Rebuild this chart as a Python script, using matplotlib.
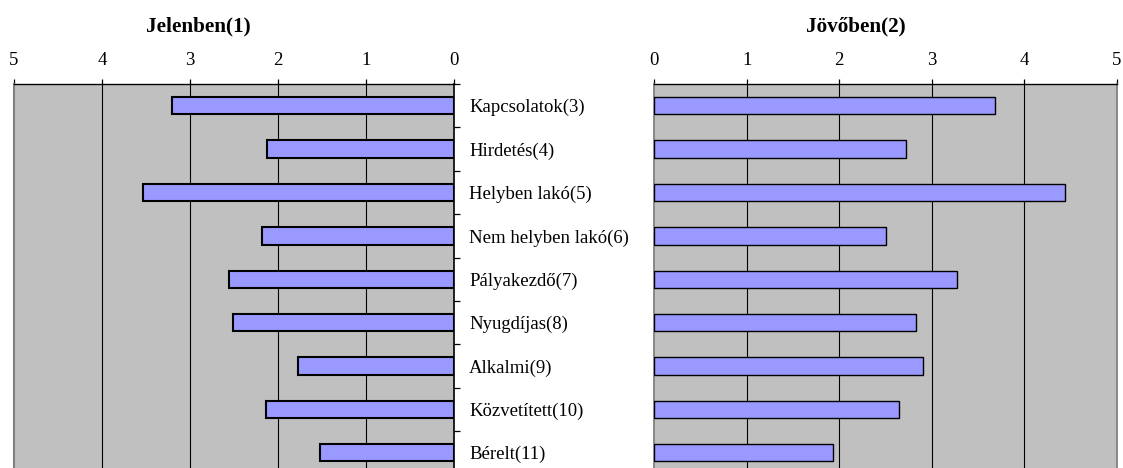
import matplotlib
matplotlib.use("Agg")
import matplotlib.pyplot as plt
import numpy as np

# Survey scores per channel: present situation vs. expected future
categories = [
    "Kapcsolatok(3)",
    "Hirdetés(4)",
    "Helyben lakó(5)",
    "Nem helyben lakó(6)",
    "Pályakezdő(7)",
    "Nyugdíjas(8)",
    "Alkalmi(9)",
    "Közvetített(10)",
    "Bérelt(11)",
]
current = [3.20, 2.12, 3.53, 2.18, 2.56, 2.51, 1.77, 2.14, 1.52]
future = [3.68, 2.72, 4.44, 2.51, 3.27, 2.83, 2.90, 2.65, 1.93]
scale_ticks = [0, 1, 2, 3, 4, 5]
title_left = "Jelenben(1)"
title_right = "Jövőben(2)"

plt.rcParams["font.family"] = ["Liberation Serif", "DejaVu Serif"]

W, H = 1123, 468
fig = plt.figure(figsize=(W / 100, H / 100), dpi=100)


def rect(x0, x1, y0, y1):
    return [x0 / W, 1 - y1 / H, (x1 - x0) / W, (y1 - y0) / H]


axL = fig.add_axes(rect(14, 454, 84, 474.5))
axR = fig.add_axes(rect(654, 1117, 84, 474.5))

y = np.arange(len(categories))
BAR = "#9999FF"
PANEL = "#C0C0C0"
EDGE_GREY = "#808080"

for ax, vals, lw in ((axL, current, 1.5), (axR, future, 1.0)):
    ax.set_facecolor(PANEL)
    ax.barh(y, vals, height=0.4, color=BAR, edgecolor="black",
            linewidth=lw, zorder=3)
    ax.set_ylim(len(categories) - 0.5, -0.5)
    ax.set_xticks(scale_ticks)
    ax.xaxis.tick_top()
    ax.tick_params(axis="x", direction="out", length=3.5, width=0.9,
                   pad=7.5, labelsize=13.5, colors="black")
    for v in scale_ticks[1:-1]:
        ax.axvline(v, color="black", linewidth=0.8, zorder=1)
    ax.spines["bottom"].set_visible(False)
    ax.spines["top"].set_linewidth(1.0)
    ax.spines["top"].set_color("black")

# Left panel: scale runs from 5 down to 0, category labels on its right side
axL.set_xlim(5, 0)
axL.spines["left"].set_color(EDGE_GREY)
axL.spines["left"].set_linewidth(1.5)
axL.spines["right"].set_color("black")
axL.spines["right"].set_linewidth(1.2)
axL.yaxis.tick_right()
axL.set_yticks(y)
axL.set_yticklabels(categories)
axL.set_yticks(np.arange(len(categories) + 1) - 0.5, minor=True)
axL.tick_params(axis="y", which="major", length=0, pad=11, labelsize=13.5)
axL.tick_params(axis="y", which="minor", direction="out", length=4.5,
                width=0.9)

# Right panel: scale runs from 0 to 5, no category labels
axR.set_xlim(0, 5)
axR.set_yticks([])
for side in ("left", "right"):
    axR.spines[side].set_color(EDGE_GREY)
    axR.spines[side].set_linewidth(1.3)

fig.text(198 / W, 1 - 26 / H, title_left, ha="center", va="center",
         fontsize=15.2, fontweight="bold")
fig.text(856 / W, 1 - 26 / H, title_right, ha="center", va="center",
         fontsize=15.2, fontweight="bold")

fig.savefig("out.png", dpi=100)
